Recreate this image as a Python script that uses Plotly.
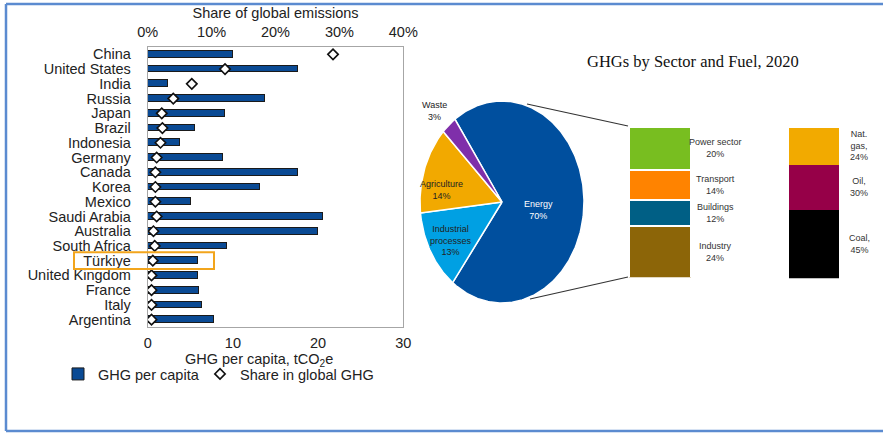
import numpy as np
import plotly.graph_objects as go

W, H = 883, 433

# ---------------- data ----------------
countries = ["China", "United States", "India", "Russia", "Japan", "Brazil", "Indonesia",
             "Germany", "Canada", "Korea", "Mexico", "Saudi Arabia", "Australia",
             "South Africa", "Türkiye", "United Kingdom", "France", "Italy", "Argentina"]
ghg_per_capita = [10.0, 17.6, 2.4, 13.7, 9.0, 5.5, 3.7, 8.8, 17.6, 13.2, 5.1, 20.5, 20.0,
                  9.3, 5.9, 5.9, 6.0, 6.3, 7.7]
share_global = [29.0, 12.1, 6.9, 4.0, 2.2, 2.3, 2.0, 1.4, 1.2, 1.2, 1.2, 1.4, 0.9,
                1.1, 0.8, 0.6, 0.6, 0.6, 0.6]
per_capita_ticks = [0, 10, 20, 30]
share_ticks = [0, 10, 20, 30, 40]
share_ticktext = ["0%", "10%", "20%", "30%", "40%"]

sectors = ["Energy", "Industrial<br>processes", "Agriculture", "Waste"]
sector_share = [70, 13, 14, 3]

energy_uses = ["Industry", "Buildings", "Transport", "Power sector"]
energy_use_share = [24, 12, 14, 20]

fuels = ["Coal,", "Oil,", "Nat.<br>gas,"]
fuel_share = [45, 30, 24]

highlight = "Türkiye"

# ---------------- styles ----------------
def X(px):
    return px / W

def Y(py):
    return 1 - py / H

LFONT = "Liberation Sans, Arial, sans-serif"
NFONT = "Liberation Sans Narrow, Arial Narrow, Liberation Sans, Arial, sans-serif"
sector_colors = ["#004F9E", "#00A0E3", "#F2A900", "#7F2FAA"]
sector_text_colors = ["white", "#222222", "#222222", "#222222"]
label_radius = [0.45, 0.73, 0.75, 1.22]
label_angle_offset = [9, -2, -10, -2]
pie_rotation = -35
use_colors = ["#8C6508", "#005F85", "#FF8300", "#78BE20"]
fuel_colors = ["#000000", "#960048", "#F2AA00"]

fig = go.Figure()

# ---------------- left chart ----------------
fig.add_trace(go.Bar(
    y=countries, x=ghg_per_capita, orientation="h", xaxis="x", yaxis="y",
    name="GHG per capita", width=0.46, legend="legend",
    marker=dict(color="#0A4A94", line=dict(color="#1a1a1a", width=1)),
    hoverinfo="x+y"))
fig.add_trace(go.Scatter(
    y=countries, x=share_global, xaxis="x2", yaxis="y", mode="markers",
    name="Share in global GHG", legend="legend2",
    marker=dict(symbol="diamond", size=8, color="white", line=dict(color="#111111", width=1.6))))

# ---------------- pie (drawn on a free-aspect axis) ----------------
tot = sum(sector_share)
start = pie_rotation
annotations = []
for i, (lab, v) in enumerate(zip(sectors, sector_share)):
    span = 360.0 * v / tot
    t = np.radians(np.linspace(start, start + span, max(8, int(span))))
    xs = np.concatenate([[0], np.sin(t), [0]])
    ys = np.concatenate([[0], np.cos(t), [0]])
    fig.add_trace(go.Scatter(
        x=xs, y=ys, xaxis="x3", yaxis="y3", mode="lines", fill="toself",
        fillcolor=sector_colors[i], line=dict(color="white", width=1.5),
        showlegend=False, hoverinfo="text", text=f"{lab}: {v}%", hoveron="fills"))
    mid = np.radians(start + span / 2 + label_angle_offset[i])
    r = label_radius[i]
    annotations.append(dict(
        x=r * np.sin(mid), y=r * np.cos(mid), xref="x3", yref="y3",
        xanchor="center", yanchor="middle",
        text=f"{lab}<br>{v}%", showarrow=False,
        font=dict(family=NFONT, size=9, color=sector_text_colors[i])))
    start += span

# ---------------- energy breakdown bar ----------------
cum = 0
for lab, v, c in zip(energy_uses, energy_use_share, use_colors):
    fig.add_trace(go.Bar(
        x=[0], y=[v], xaxis="x4", yaxis="y4", width=1, showlegend=False,
        marker=dict(color=c, line=dict(color="white", width=2)), name=lab))
    annotations.append(dict(
        x=X(715), y=cum + v / 2, xref="paper", yref="y4",
        xanchor="center", yanchor="middle",
        text=f"{lab}<br>{v}%", showarrow=False,
        font=dict(family=NFONT, size=9, color="#333333")))
    cum += v

# ---------------- fuel bar ----------------
cum = 0
for lab, v, c in zip(fuels, fuel_share, fuel_colors):
    fig.add_trace(go.Bar(
        x=[0], y=[v], xaxis="x5", yaxis="y5", width=1, showlegend=False,
        marker=dict(color=c, line=dict(width=0)), name=lab.replace("<br>", " ")))
    annotations.append(dict(
        x=X(859), y=cum + v / 2, xref="paper", yref="y5",
        xanchor="center", yanchor="middle",
        text=f"{lab}<br>{v}%", showarrow=False,
        font=dict(family=NFONT, size=9, color="#333333")))
    cum += v

# ---------------- titles ----------------
annotations.append(dict(
    x=X(259), y=Y(359.5), xref="paper", yref="paper", xanchor="center", yanchor="middle",
    text="GHG per capita, tCO<sub>2</sub>e", showarrow=False,
    font=dict(family=LFONT, size=14.5, color="#222222")))
annotations.append(dict(
    x=X(693), y=Y(62), xref="paper", yref="paper", xanchor="center", yanchor="middle",
    text="GHGs by Sector and Fuel, 2020", showarrow=False,
    font=dict(family="Liberation Serif, Times New Roman, serif", size=16.5, color="#111111")))

frame_col = "#5B8BD0"
hi = countries.index(highlight)
shapes = [
    # Türkiye highlight
    dict(type="rect", xref="paper", yref="y", x0=X(74), x1=X(214), y0=hi - 0.57, y1=hi + 0.57,
         line=dict(color="#F2A51C", width=2)),
    # connectors from pie to energy bar
    dict(type="line", xref="paper", yref="paper", x0=X(527), y0=Y(104), x1=X(628), y1=Y(126),
         line=dict(color="#333333", width=1.2)),
    dict(type="line", xref="paper", yref="paper", x0=X(530), y0=Y(299), x1=X(628), y1=Y(277),
         line=dict(color="#333333", width=1.2)),
    # outer frame
    dict(type="line", xref="paper", yref="paper", x0=X(6), y0=Y(4), x1=X(6), y1=Y(431),
         line=dict(color=frame_col, width=2.5)),
    dict(type="line", xref="paper", yref="paper", x0=X(6), y0=Y(4), x1=1, y1=Y(4),
         line=dict(color=frame_col, width=2.5)),
    dict(type="line", xref="paper", yref="paper", x0=X(6), y0=Y(431), x1=1, y1=Y(431),
         line=dict(color=frame_col, width=2.5)),
]

hidden = dict(visible=False, fixedrange=True, automargin=False)
legend_common = dict(orientation="h", xanchor="left", yanchor="middle",
                     font=dict(family=LFONT, size=14.5, color="#222222"), itemwidth=30,
                     bgcolor="rgba(0,0,0,0)")
fig.update_layout(
    width=W, height=H, margin=dict(l=0, r=0, t=0, b=0, pad=0, autoexpand=False),
    paper_bgcolor="white", plot_bgcolor="rgba(0,0,0,0)",
    barmode="stack", bargap=0,
    font=dict(family=LFONT, size=14.5, color="#222222"),
    xaxis=dict(domain=[X(147.7), X(403.3)], range=[0, 30], tickvals=per_capita_ticks,
               showgrid=False, zeroline=False, showline=True, mirror=True, automargin=False,
               linecolor="#A6A6A6", linewidth=1, ticks="", ticklabelstandoff=3,
               tickfont=dict(size=14.5, color="#222222"), anchor="y"),
    xaxis2=dict(domain=[X(147.7), X(403.3)], range=[0, 40], tickmode="array",
                tickvals=share_ticks, ticktext=share_ticktext, automargin=False,
                overlaying="x", side="top", anchor="y",
                showgrid=False, zeroline=False, showline=False, ticks="",
                ticklabelstandoff=6, tickfont=dict(size=14.5, color="#222222"),
                title=dict(text="Share of global emissions", standoff=2,
                           font=dict(size=14.5, color="#222222"))),
    yaxis=dict(domain=[Y(327), Y(47)], range=[len(countries) - 0.5, -0.5],
               type="category", tickmode="linear", tick0=0, dtick=1, showgrid=False,
               showline=True, mirror=True, linecolor="#A6A6A6", linewidth=1, automargin=False,
               ticks="", ticklabelstandoff=13, tickfont=dict(size=14.5, color="#222222"),
               categoryorder="array", categoryarray=countries),
    xaxis3=dict(domain=[X(420), X(584)], range=[-1.0, 1.0], **hidden),
    yaxis3=dict(domain=[Y(303), Y(101)], range=[-1.0, 1.0], anchor="x3", **hidden),
    xaxis4=dict(domain=[X(629), X(691)], range=[-0.5, 0.5], anchor="y4", **hidden),
    yaxis4=dict(domain=[Y(277.5), Y(126.5)], range=[0, 70], anchor="x4", **hidden),
    xaxis5=dict(domain=[X(789), X(839)], range=[-0.5, 0.5], anchor="y5", **hidden),
    yaxis5=dict(domain=[Y(278.3), Y(127.7)], range=[0, 99], anchor="x5", **hidden),
    legend=dict(x=X(58), y=Y(374), **legend_common),
    legend2=dict(x=X(200), y=Y(374), **legend_common),
    annotations=annotations,
    shapes=shapes,
)

fig.write_html("out.html")
